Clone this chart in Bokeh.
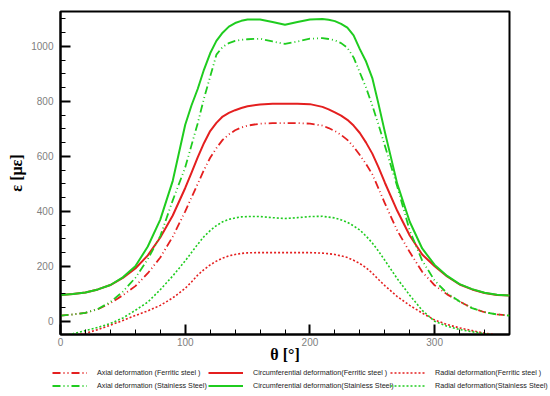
from bokeh.plotting import figure
from bokeh.layouts import column
from bokeh.models import Legend, LegendItem, Range1d, FixedTicker
from bokeh.embed import file_html
from bokeh.resources import INLINE

# ---------------- data ----------------
theta = [0, 10, 20, 30, 40, 50, 60, 70, 80, 90, 100, 105, 110, 115, 120, 125, 130, 135, 140, 145,
         150, 160, 170, 180, 190, 200, 210, 215, 220, 225, 230, 235, 240, 245, 250, 255,
         260, 270, 280, 290, 300, 310, 320, 330, 340, 350, 360]

circ_stainless = [96, 99, 105, 116, 132, 160, 200, 272, 370, 511, 715, 785, 845, 915, 975, 1020, 1050, 1072, 1085, 1093,
                  1098, 1098, 1089, 1079, 1089, 1098, 1100, 1097, 1092, 1082, 1068, 1040, 990, 945, 885, 790,
                  690, 500, 362, 265, 205, 165, 135, 117, 104, 97, 94]
axial_stainless = [21, 25, 31, 45, 70, 108, 158, 226, 310, 440, 560, 640, 720, 810, 890, 970, 998, 1012, 1020, 1024,
                   1026, 1028, 1018, 1009, 1018, 1028, 1030, 1027, 1022, 1012, 995, 960, 905, 850, 785, 715,
                   640, 490, 330, 221, 148, 102, 72, 48, 33, 25, 21]
circ_ferritic = [96, 99, 105, 116, 132, 158, 192, 240, 305, 385, 485, 540, 596, 648, 692, 722, 745, 758, 768, 776,
                 782, 789, 791, 791, 791, 790, 780, 771, 760, 748, 733, 712, 685, 650, 610, 560,
                 505, 402, 312, 243, 200, 163, 134, 116, 103, 96, 94]
axial_ferritic = [21, 25, 31, 44, 66, 95, 128, 175, 232, 308, 400, 450, 500, 550, 595, 630, 660, 680, 695, 705,
                  712, 719, 721, 721, 721, 719, 712, 703, 692, 678, 660, 635, 605, 572, 535, 483,
                  430, 330, 252, 180, 131, 98, 72, 48, 33, 25, 21]
radial_stainless = [-55, -45, -34, -22, -8, 12, 40, 70, 115, 165, 220, 250, 280, 308, 330, 348, 362, 371, 376, 380,
                    381, 381, 377, 374, 377, 381, 382, 379, 376, 369, 360, 347, 332, 310, 285, 255,
                    222, 155, 95, 40, 0, -18, -30, -38, -45, -51, -55]
radial_ferritic = [-56, -51, -44, -30, -14, 3, 21, 38, 58, 85, 120, 143, 168, 188, 205, 219, 230, 238, 243, 247,
                   249, 250, 250, 250, 250, 250, 248, 246, 243, 238, 232, 222, 210, 195, 175, 152,
                   130, 90, 58, 30, 5, -12, -24, -34, -43, -50, -56]

labels = ["Axial deformation (Ferritic steel )",
          "Circumferential deformation(Ferritic steel )",
          "Radial deformation(Ferritic steel )",
          "Axial deformation (Stainless Steel)",
          "Circumferential deformation(Stainless Steel)",
          "Radial deformation(Stainless Steel)"]

x_ticks = [0, 100, 200, 300]
y_ticks = [0, 200, 400, 600, 800, 1000]

RED = "#e41f1f"
GREEN = "#1fcc1f"
DASHDOT = "8 3 1 3 1 3"
DOT = "2 2"

styles = [
    (RED, DASHDOT, 1.8),
    (RED, "solid", 2.0),
    (RED, DOT, 1.6),
    (GREEN, DASHDOT, 1.8),
    (GREEN, "solid", 2.0),
    (GREEN, DOT, 1.6),
]
values = [axial_ferritic, circ_ferritic, radial_ferritic,
          axial_stainless, circ_stainless, radial_stainless]

# ---------------- main figure ----------------
p = figure(width=550, height=365, output_backend="svg", toolbar_location=None,
           x_range=Range1d(0, 360), y_range=Range1d(-48, 1127),
           min_border_left=60, min_border_right=41, min_border_top=11, min_border_bottom=31)
p.background_fill_color = "white"
p.border_fill_color = "white"
p.grid.visible = False
p.outline_line_color = "black"
p.outline_line_width = 2

for ys, (col, dash, lw) in zip(values, styles):
    p.line(theta, ys, line_color=col, line_width=lw, line_dash=dash, line_join="round")

for ax in (p.xaxis[0], p.yaxis[0]):
    ax.axis_line_width = 2
    ax.axis_line_color = "black"
    ax.major_tick_in = 10
    ax.major_tick_out = 0
    ax.minor_tick_in = 5
    ax.minor_tick_out = 0
    ax.major_tick_line_width = 2
    ax.major_tick_line_color = "black"
    ax.minor_tick_line_color = "black"
    ax.minor_tick_line_width = 1
    ax.major_label_text_font = "Liberation Sans"
    ax.major_label_text_font_size = "10px"
    ax.major_label_text_color = "#808080"
    ax.axis_label_text_font = "Liberation Serif"
    ax.axis_label_text_font_style = "bold"
    ax.axis_label_text_font_size = "16px"
    ax.axis_label_text_color = "black"

p.xaxis.ticker = FixedTicker(ticks=x_ticks, minor_ticks=list(range(0, 361, 20)))
p.yaxis.ticker = FixedTicker(ticks=y_ticks, minor_ticks=list(range(-50, 1126, 50)))
p.xaxis.axis_label = "θ [°]"
p.yaxis.axis_label = "ε [με]"
p.xaxis.major_label_standoff = 3
p.yaxis.major_label_standoff = 7
p.xaxis.axis_label_standoff = -3
p.yaxis.axis_label_standoff = 3

# ---------------- legend strip ----------------
q = figure(width=550, height=31, output_backend="svg", toolbar_location=None,
           x_range=Range1d(0, 1), y_range=Range1d(-1000, -999),
           x_axis_type=None, y_axis_type=None,
           min_border_left=0, min_border_right=0, min_border_top=0, min_border_bottom=0)
q.outline_line_color = None
q.grid.visible = False
q.background_fill_color = "white"
q.border_fill_color = "white"
for fig in (p, q):
    if "frame_align" in fig.properties():
        fig.frame_align = False

# legend sample lines (hidden copies of the series, shown only as legend glyphs)
samples = []
for ys, (col, dash, lw) in zip(values, styles):
    samples.append(q.line(theta, ys, line_color=col, line_width=lw, line_dash=dash, visible=False))

col_x = [52, 208, 390]
for c in range(3):
    items = [LegendItem(label=labels[c], renderers=[samples[c]]),
             LegendItem(label=labels[c + 3], renderers=[samples[c + 3]])]
    lg = Legend(items=items, location=(col_x[c], 4), orientation="vertical",
                glyph_width=35, glyph_height=13, label_height=13, label_standoff=10,
                spacing=0, padding=0, margin=0, border_line_color=None,
                background_fill_alpha=0, click_policy="none",
                label_text_font="Liberation Sans", label_text_font_size="7.2px",
                label_text_color="#222222")
    q.add_layout(lg)

layout = column(p, q, spacing=0)
open("out.html", "w").write(file_html(layout, INLINE))
